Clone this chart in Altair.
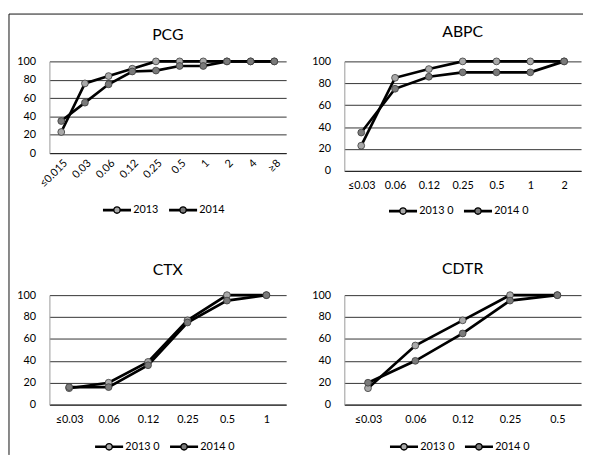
import altair as alt
import pandas as pd

# ---- data ----
pcg_cats = ["≤0.015", "0.03", "0.06", "0.12", "0.25", "0.5", "1", "2", "4", "≥8"]
pcg_2013 = [23, 76, 84, 92, 100, 100, 100, 100, 100, 100]
pcg_2014 = [35, 55, 75, 89, 90, 95, 95, 100, 100, 100]

abpc_cats = ["≤0.03", "0.06", "0.12", "0.25", "0.5", "1", "2"]
abpc_2013 = [23, 85, 93, 100, 100, 100, 100]
abpc_2014 = [35, 75, 86, 90, 90, 90, 100]

ctx_cats = ["≤0.03", "0.06", "0.12", "0.25", "0.5", "1"]
ctx_2013 = [15, 20, 39, 77, 100, 100]
ctx_2014 = [16, 16, 36, 75, 95, 100]

cdtr_cats = ["≤0.03", "0.06", "0.12", "0.25", "0.5"]
cdtr_2013 = [15, 54, 77, 100, 100]
cdtr_2014 = [20, 40, 65, 95, 100]

names_a = ["2013", "2014"]
names_b = ["2013 0", "2014 0"]
y_ticks = [0, 20, 40, 60, 80, 100]

FONT = "Lato"
LEG_PATH = ("M-1,-0.05H-0.24V0.05H-1Z M0.24,-0.05H1V0.05H0.24Z "
            "M-0.24,0A0.24,0.24 0 1,1 0.24,0A0.24,0.24 0 1,1 -0.24,0Z")


def panel(title, cats, v13, v14, names, height, rotate, legx, legy, toff, frame=False):
    df = pd.DataFrame({
        "mic": cats * 2,
        "pct": v13 + v14,
        "series": [names[0]] * len(cats) + [names[1]] * len(cats),
    })
    xaxis = alt.Axis(title=None, ticks=False, grid=False,
                     labelAngle=315 if rotate else 0,
                     labelPadding=4 if rotate else 9,
                     domainColor="#222", domainWidth=1,
                     labelFont=FONT, labelFontSize=11, labelColor="black")
    yaxis = alt.Axis(title=None, values=y_ticks, ticks=False, labelPadding=14,
                     domainColor="#999", domainWidth=1,
                     grid=True, gridColor="#333", gridWidth=1,
                     labelFont=FONT, labelFontSize=11, labelColor="black")
    x = alt.X("mic:N", sort=cats, scale=alt.Scale(type="point", padding=0.5), axis=xaxis)
    y = alt.Y("pct:Q", scale=alt.Scale(domain=[0, 100]), axis=yaxis)
    base = alt.Chart(df)
    lines = base.mark_line(color="black", strokeWidth=2.7).encode(
        x=x, y=y, detail="series:N")
    pts = base.mark_circle(size=48, stroke="#3a3a3a", strokeWidth=0.8, opacity=1).encode(
        x=x, y=y,
        fill=alt.Fill("series:N",
                      scale=alt.Scale(domain=names, range=["#a9a9a9", "#7a7a7a"]),
                      legend=alt.Legend(title=None, orient="none", direction="horizontal",
                                        legendX=legx, legendY=legy, padding=0,
                                        symbolType=LEG_PATH, symbolSize=730,
                                        symbolStrokeColor="black", symbolStrokeWidth=1.4,
                                        symbolOpacity=1, labelOffset=2, columnPadding=8,
                                        labelFont=FONT, labelFontSize=11,
                                        labelColor="black")))
    layers = [lines, pts]
    if frame:
        one = alt.Chart(pd.DataFrame({"a": [0]}))
        layers.append(one.mark_rule(color="#111", strokeWidth=1).encode(
            x=alt.value(-41), y=alt.value(-48), y2=alt.value(399)))
        layers.append(one.mark_rule(color="#111", strokeWidth=1).encode(
            x=alt.value(-41), x2=alt.value(541), y=alt.value(-48)))
    return alt.layer(*layers).properties(
        width=240, height=height,
        title=alt.TitleParams(title, font=FONT, fontSize=16, fontWeight="normal",
                              color="black", anchor="middle", offset=toff,
                              frame="group"))


pcg = panel("PCG", pcg_cats, pcg_2013, pcg_2014, names_a, 93, True, 54, 136, -30, frame=True)
abpc = panel("ABPC", abpc_cats, abpc_2013, abpc_2014, names_b, 111, False, 45, 137, 16)
ctx = panel("CTX", ctx_cats, ctx_2013, ctx_2014, names_b, 111, False, 46, 139, 11)
cdtr = panel("CDTR", cdtr_cats, cdtr_2013, cdtr_2014, names_b, 111, False, 46, 139, 12)

chart = alt.concat(pcg, abpc, ctx, cdtr, columns=2,
                   spacing={"row": 126, "column": 59},
                   bounds="flush", align="all").resolve_scale(
    x="independent", y="independent", fill="independent"
).resolve_legend(fill="independent").properties(
    padding={"left": 0, "top": 2, "right": 0, "bottom": 0},
    background="white",
).configure_view(strokeWidth=0)

chart.save("out.html", embed_options={"renderer": "svg", "actions": False})
